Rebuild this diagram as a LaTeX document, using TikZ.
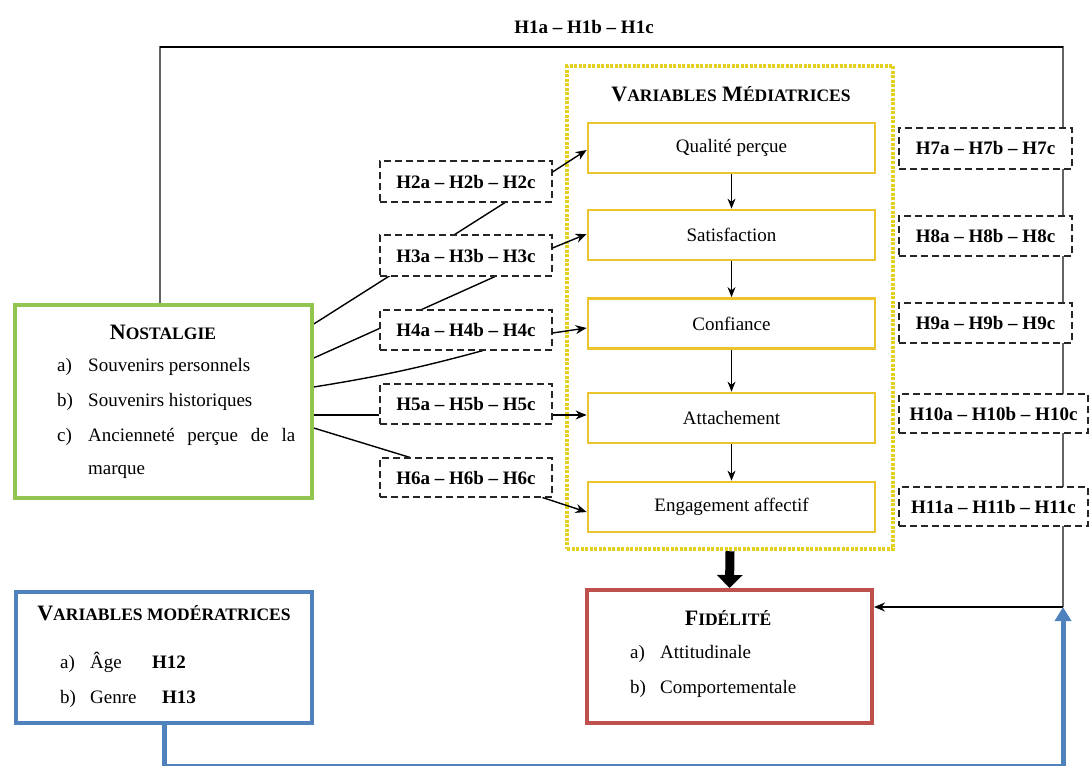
\documentclass[tikz,border=0pt]{standalone}
\usepackage{fontspec}
\setmainfont{Liberation Serif}
\usetikzlibrary{arrows.meta,backgrounds}
\definecolor{ngreen}{RGB}{146,196,80}
\definecolor{myellow}{RGB}{228,208,30}
\definecolor{iyellow}{RGB}{236,196,45}
\definecolor{fred}{RGB}{192,80,77}
\definecolor{mblue}{RGB}{79,129,189}
\definecolor{lgray}{RGB}{100,100,100}
\newcommand{\sce}[1]{{\fontsize{17.5}{20}\selectfont #1}}
\begin{document}
\begin{tikzpicture}[x=1pt,y=-1pt,
  body/.style={font=\fontsize{19}{22}\selectfont, inner sep=0pt, anchor=base west},
  bodyb/.style={font=\fontsize{19}{22}\selectfont\bfseries, inner sep=0pt, anchor=base west},
  ttl/.style={font=\fontsize{22}{26}\selectfont\bfseries, inner sep=0pt, anchor=base},
  hbox/.style={draw=black!85, dash pattern=on 7pt off 4pt, line width=1.1pt, fill=white,
    font=\fontsize{19}{22}\selectfont\bfseries, inner sep=0pt, minimum height=40pt},
  mbox/.style={draw=iyellow, line width=2.8pt, fill=white, minimum width=287pt,
    minimum height=50pt, font=\fontsize{19}{22}\selectfont, inner sep=0pt},
  bigbox/.style={line width=4pt, fill=white, inner sep=0pt},
  conn/.style={line width=1.4pt, black},
  arr/.style={conn, -{Stealth[length=11pt,width=9pt]}},
  varr/.style={line width=1.2pt, black, -{Stealth[length=10pt,width=8pt]}},
]
\useasboundingbox (0,0) rectangle (1091,765);

% H1 label
\node[font=\fontsize{19}{22}\selectfont\bfseries, inner sep=0pt] (h1) at (584,27) {H1a -- H1b -- H1c};

% coordinates of the frame path
\coordinate (tr) at (1063,47);
\coordinate (jn) at (1063,607);
\coordinate (bl) at (1063,766);

% main boxes
\node[bigbox, draw=ngreen, line width=3.5pt, minimum width=297pt, minimum height=193pt] (nos) at (163.5,401.5) {};
\node[bigbox, draw=mblue, minimum width=296pt, minimum height=131pt] (mod) at (164,657.5) {};
\node[bigbox, draw=fred, minimum width=285pt, minimum height=133pt] (fid) at (729.5,656.5) {};

% mediator frame
\node[draw=myellow, line width=4.5pt, dash pattern=on 3pt off 1.5pt, minimum width=326pt, minimum height=483pt, inner sep=0pt] (med) at (730,307.5) {};
\node[ttl] (medt) at (731,102) {V\sce{ARIABLES} M\sce{ÉDIATRICES}};

\node[mbox] (qual) at (731.5,148) {Qualité perçue};
\node[mbox] (sat) at (731.5,235) {Satisfaction};
\node[mbox] (conf) at (731.5,323.5) {Confiance};
\node[mbox] (att) at (731.5,418) {Attachement};
\node[mbox] (eng) at (731.5,507) {Engagement affectif};

% left hypothesis boxes
\node[hbox, minimum width=172pt, minimum height=41pt] (h2) at (466,181.5) {H2a -- H2b -- H2c};
\node[hbox, minimum width=172pt, minimum height=41pt] (h3) at (466,255.5) {H3a -- H3b -- H3c};
\node[hbox, minimum width=172pt] (h4) at (466,330) {H4a -- H4b -- H4c};
\node[hbox, minimum width=172pt] (h5) at (466,404) {H5a -- H5b -- H5c};
\node[hbox, minimum width=172pt, minimum height=39pt] (h6) at (466,477.5) {H6a -- H6b -- H6c};

% right hypothesis boxes
\node[hbox, minimum width=173pt, minimum height=41pt] (h7) at (985.5,148.5) {H7a -- H7b -- H7c};
\node[hbox, minimum width=173pt] (h8) at (985.5,236) {H8a -- H8b -- H8c};
\node[hbox, minimum width=173pt] (h9) at (985.5,323) {H9a -- H9b -- H9c};
\node[hbox, minimum width=189pt, minimum height=39pt] (h10) at (993.5,413.5) {H10a -- H10b -- H10c};
\node[hbox, minimum width=189pt, minimum height=39pt] (h11) at (993.5,506.5) {H11a -- H11b -- H11c};

% texts of NOSTALGIE
\node[ttl] (nost) at (163,339) {N\sce{OSTALGIE}};
\node[body] (na) at (57,371.5) {a)};
\node[body] (nat) at (88,371.5) {Souvenirs personnels};
\node[body] (nb) at (57,406.5) {b)};
\node[body] (nbt) at (88,406.5) {Souvenirs historiques};
\node[body] (nc) at (57,441.5) {c)};
\node[body] (nct) at (88,441.5) {\makebox[207pt][s]{Ancienneté perçue de la}};
\node[body] (nct2) at (88,474.5) {marque};

% texts of moderators
\node[ttl] (modt) at (164,620) {V\sce{ARIABLES MODÉRATRICES}};
\node[body] (ma) at (60,668.5) {a)};
\node[body] (mat) at (90,668.5) {Âge};
\node[bodyb] (mah) at (152,668.5) {H12};
\node[body] (mb) at (60,703.5) {b)};
\node[bodyb] (mbt0) at (162,703.5) {H13};
\node[body] (mbt) at (90,703.5) {Genre};

% texts of fidelite
\node[ttl] (fidt) at (728,625) {F\sce{IDÉLITÉ}};
\node[body] (fa) at (630,658.5) {a)};
\node[body] (fat) at (660,658.5) {Attitudinale};
\node[body] (fb) at (630,693.5) {b)};
\node[body] (fbt) at (660,693.5) {Comportementale};

% background connectors
\begin{pgfonlayer}{background}
  \draw[lgray, line width=1.3pt] ([xshift=-3.5pt]nos.north) |- (tr) -- (jn);
  \draw[black, line width=1.3pt] ([xshift=-3.5pt]nos.north |- tr) -- (tr);
  \draw[conn] ([yshift=77.5pt]nos.east) -- ([xshift=39pt]h2.south);
  \draw[conn] ([yshift=43.5pt]nos.east) -- ([xshift=29pt]h3.south);
  \draw[conn] ([yshift=14.5pt]nos.east) to[bend right=3] ([xshift=17pt]h4.south);
  \draw[conn] ([yshift=-13.5pt]nos.east) -- ([yshift=-11pt]h5.west);
  \draw[conn] ([yshift=-26.5pt]nos.east) -- ([xshift=-56pt]h6.north);
\end{pgfonlayer}

% arrows to mediators
\draw[arr] ([yshift=9.5pt]h2.east) -- ([yshift=-2pt]qual.west);
\draw[arr] ([yshift=7.5pt]h3.east) -- ([yshift=1pt]sat.west);
\draw[arr] ([yshift=-3pt]h4.east) -- ([yshift=-4.5pt]conf.west);
\draw[arr] ([yshift=-11pt]h5.east) -- ([yshift=3pt]att.west);
\draw[arr] ([xshift=-10pt]h6.south east) -- ([yshift=-5pt]eng.west);

% chain arrows
\draw[varr] (qual.south) -- (sat.north);
\draw[varr] (sat.south) -- (conf.north);
\draw[varr] (conf.south) -- (att.north);
\draw[varr] (att.south) -- (eng.north);

% thick arrow to fidelite
\draw[black, line width=9pt, -{Triangle[length=13pt,width=25pt]}] (med.south) -- (fid.north);

% arrow from right line to fidelite
\draw[line width=1.3pt, black, -{Stealth[length=11pt,width=9pt]}] (jn) -- (fid.east |- jn);

% blue moderator path
\draw[mblue, line width=5pt, -{Triangle[length=14pt,width=16pt]}] (mod.south) |- (bl) -- (jn);
\end{tikzpicture}
\end{document}
